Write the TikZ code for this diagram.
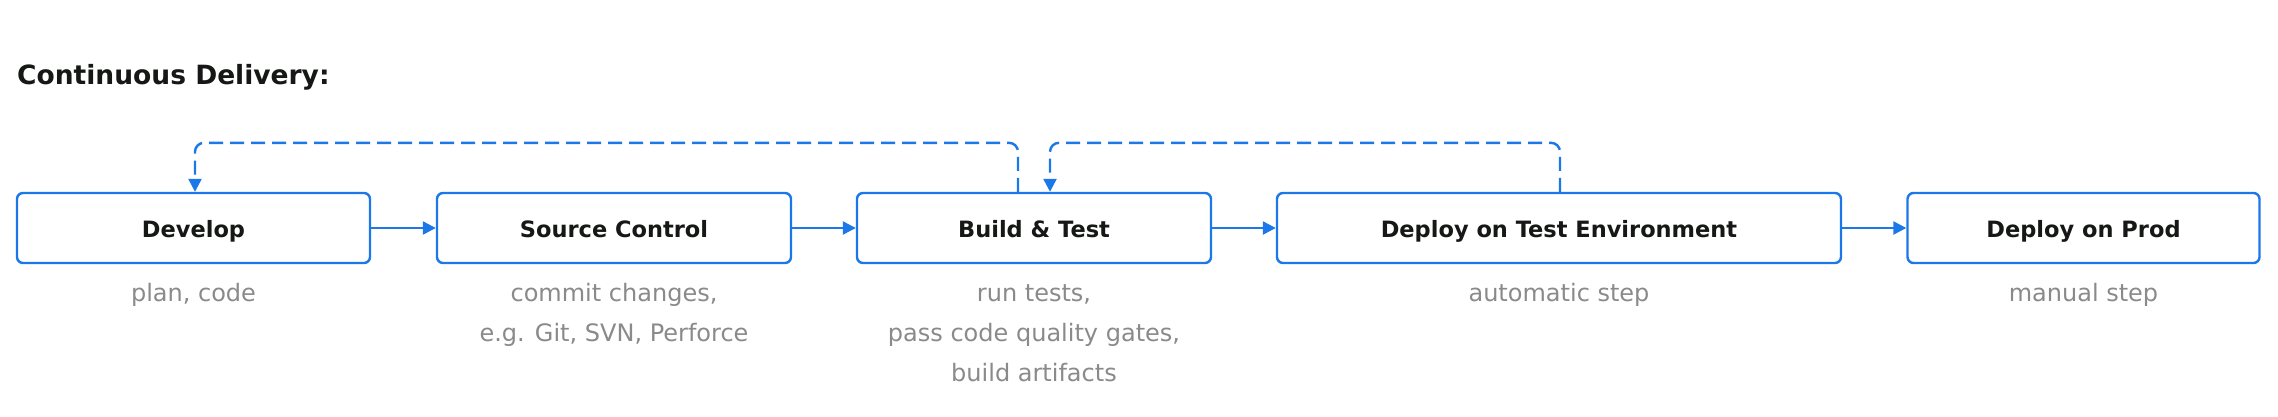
\documentclass[tikz,border=0pt]{standalone}
\usepackage{fontspec}
\setmainfont{DejaVu Sans}
\usetikzlibrary{arrows.meta,calc}
\definecolor{cdblue}{RGB}{28,120,232}
\definecolor{cdgrey}{RGB}{138,138,138}
\definecolor{cdtext}{RGB}{22,24,22}
\tikzset{
  stagebox/.style={draw=cdblue, line width=2.4pt, rounded corners=6pt, minimum height=70pt,
    inner sep=0pt, text height=24pt, text depth=5pt, text=cdtext, font=\bfseries\fontsize{22.5}{27}\selectfont},
  flowarrow/.style={draw=cdblue, line width=2.4pt, -{Triangle[length=13pt,width=13pt]}},
  loopback/.style={draw=cdblue, line width=2.4pt, dash pattern=on 14pt off 7pt, rounded corners=9pt,
    -{Triangle[length=13pt,width=13pt]}},
  stagenote/.style={anchor=north, inner sep=0pt, align=center, text=cdgrey,
    font=\fontsize{24}{40}\selectfont},
  heading/.style={anchor=base west, inner sep=0pt, text=cdtext, font=\bfseries\fontsize{26.5}{30}\selectfont}
}
\begin{document}
\begin{tikzpicture}[x=1pt,y=-1pt]
\useasboundingbox[fill=white] (0,0) rectangle (2278,416);
\node[heading] (title) at (17,84) {Continuous Delivery:};
\node[stagebox, minimum width=353pt] (develop) at (193.5,228) {Develop};
\node[stagebox, minimum width=354pt] (source) at (614,228) {Source Control};
\node[stagebox, minimum width=354pt] (build) at (1034,228) {Build \& Test};
\node[stagebox, minimum width=564pt] (deploytest) at (1559,228) {Deploy on Test Environment};
\node[stagebox, minimum width=352pt] (prod) at (2083.5,228) {Deploy on Prod};
\draw[flowarrow] (develop) -- (source);
\draw[flowarrow] (source) -- (build);
\draw[flowarrow] (build) -- (deploytest);
\draw[flowarrow] (deploytest) -- (prod);
\draw[loopback] ([xshift=-16pt]build.north) -- ++(0,-49) -| ([xshift=1.5pt]develop.north);
\draw[loopback] ([xshift=1pt]deploytest.north) -- ++(0,-49) -| ([xshift=16pt]build.north);
\node[stagenote] (n1) at (193.5,283) {\rule{0pt}{18pt}plan, code};
\node[stagenote] (n2) at (614,283) {\rule{0pt}{18pt}commit changes,\\e.g. Git, SVN, Perforce};
\node[stagenote] (n3) at (1034,283) {\rule{0pt}{18pt}run tests,\\pass code quality gates,\\build artifacts};
\node[stagenote] (n4) at (1559,283) {\rule{0pt}{18pt}automatic step};
\node[stagenote] (n5) at (2083.5,283) {\rule{0pt}{18pt}manual step};
\end{tikzpicture}
\end{document}
